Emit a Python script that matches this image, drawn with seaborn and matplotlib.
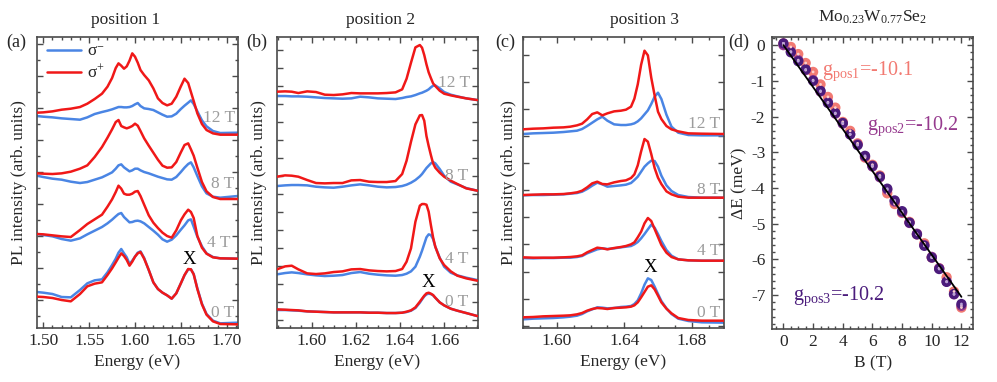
import numpy as np
import pandas as pd
import matplotlib
matplotlib.use("Agg")
import matplotlib.pyplot as plt
from matplotlib.ticker import MultipleLocator, FormatStrFormatter
from matplotlib.lines import Line2D
import seaborn as sns

# ---------------- data: panel (a) position 1 ----------------
E_a = [1.493, 1.500, 1.510, 1.520, 1.530, 1.540, 1.548, 1.556, 1.564, 1.570,
       1.575, 1.579, 1.582, 1.585, 1.588, 1.591, 1.594, 1.597, 1.600, 1.603,
       1.606, 1.610, 1.615, 1.620, 1.625, 1.630, 1.635, 1.640, 1.645, 1.650,
       1.654, 1.658, 1.661, 1.664, 1.668, 1.673, 1.678, 1.685, 1.693, 1.712]
a_red_0T = [9.0, 8.9, 8.6, 8.0, 7.6, 9.8, 12.1, 12.9, 13.3, 15.5,
            17.5, 19.3, 20.7, 22.0, 21.2, 20.0, 18.3, 19.5, 21.0, 22.0,
            22.4, 20.4, 17.0, 13.3, 11.3, 10.2, 9.4, 8.4, 10.0, 13.0,
            15.5, 17.3, 17.2, 15.7, 11.3, 6.7, 3.6, 1.6, 0.8, 0.7]
a_blue_0T = [10.4, 10.2, 9.8, 8.9, 8.8, 11.0, 13.0, 13.9, 14.2, 16.3,
             18.5, 20.4, 22.2, 23.3, 22.0, 20.8, 18.8, 19.8, 21.0, 22.2,
             22.6, 20.6, 17.0, 13.3, 11.3, 10.2, 9.4, 8.4, 10.0, 13.0,
             15.4, 17.2, 17.2, 15.8, 11.5, 6.9, 3.8, 1.8, 1.0, 1.2]
a_red_4T = [27.8, 27.7, 27.4, 27.1, 26.9, 29.0, 30.8, 32.2, 33.6, 36.0,
            38.2, 40.4, 42.3, 41.4, 39.9, 39.6, 39.6, 39.9, 40.5, 40.7,
            39.2, 36.6, 33.4, 31.2, 29.6, 28.2, 27.2, 26.7, 28.9, 31.9,
            33.7, 35.1, 34.4, 32.6, 27.2, 23.7, 21.9, 20.8, 20.5, 20.4]
a_blue_4T = [27.8, 27.5, 27.1, 26.3, 25.8, 26.5, 27.7, 28.8, 29.9, 31.0,
             32.1, 33.1, 33.8, 34.1, 32.9, 32.1, 31.3, 31.4, 31.7, 31.8,
             31.6, 31.0, 29.9, 28.8, 27.6, 26.2, 25.5, 26.1, 27.4, 29.1,
             30.4, 31.9, 32.2, 30.0, 27.0, 24.1, 22.0, 20.9, 20.5, 20.4]
a_red_8T = [46.0, 45.9, 45.8, 46.0, 46.5, 47.4, 48.4, 50.9, 53.9, 56.7,
            59.2, 61.4, 62.0, 60.2, 59.8, 59.5, 59.8, 60.2, 60.9, 60.3,
            58.7, 56.5, 54.3, 52.2, 50.1, 48.3, 47.7, 47.8, 49.4, 52.3,
            54.5, 55.0, 53.2, 51.3, 47.7, 43.4, 40.6, 38.9, 38.3, 38.3]
a_blue_8T = [45.3, 44.9, 44.4, 44.1, 43.5, 43.1, 43.4, 44.1, 44.8, 45.6,
             46.3, 47.4, 48.4, 48.7, 47.8, 47.2, 46.6, 46.9, 47.4, 47.4,
             46.9, 46.4, 46.0, 45.5, 45.0, 44.6, 44.2, 44.1, 44.9, 46.4,
             47.7, 48.8, 49.3, 47.8, 45.2, 42.1, 40.0, 39.0, 38.7, 39.2]
a_red_12T = [64.2, 64.3, 64.6, 65.1, 65.4, 65.9, 66.9, 68.3, 69.9, 72.0,
             74.6, 77.6, 79.0, 78.3, 77.4, 78.1, 79.8, 82.0, 81.0, 79.2,
             77.0, 75.5, 73.9, 71.5, 68.5, 67.1, 66.4, 66.9, 69.0, 72.1,
             74.4, 73.1, 70.4, 67.7, 64.0, 60.8, 59.0, 58.0, 57.6, 57.6]
a_blue_12T = [63.2, 63.0, 62.8, 62.5, 62.3, 62.1, 62.8, 63.8, 64.4, 64.8,
              65.2, 65.6, 65.9, 65.9, 65.8, 65.8, 65.9, 66.2, 66.7, 67.1,
              66.2, 65.5, 65.3, 65.0, 64.3, 63.6, 63.0, 63.1, 63.9, 65.3,
              66.3, 67.2, 67.9, 66.8, 64.6, 61.9, 60.1, 58.7, 58.1, 58.2]

# ---------------- data: panel (b) position 2 ----------------
E_b = [1.5843, 1.588, 1.591, 1.594, 1.598, 1.602, 1.606, 1.610, 1.614, 1.618,
       1.622, 1.626, 1.630, 1.634, 1.638, 1.641, 1.643, 1.645, 1.647, 1.649,
       1.650, 1.651, 1.652, 1.653, 1.654, 1.655, 1.656, 1.658, 1.660, 1.663,
       1.666, 1.670, 1.675]
b_red_0T = [3.2, 3.1, 3.0, 2.9, 2.6, 2.5, 2.4, 2.3, 2.3, 2.3,
            2.3, 2.2, 2.2, 2.1, 2.1, 2.2, 2.5, 2.9, 3.8, 5.5,
            6.4, 7.3, 8.0, 8.2, 7.9, 7.5, 6.7, 5.3, 4.4, 3.4,
            2.8, 2.1, 1.2]
b_blue_0T = [3.0, 3.0, 2.9, 2.8, 2.6, 2.5, 2.4, 2.3, 2.3, 2.3,
             2.3, 2.2, 2.2, 2.1, 2.1, 2.2, 2.4, 2.8, 3.6, 5.2,
             6.2, 7.1, 7.7, 7.9, 7.8, 7.4, 6.7, 5.3, 4.4, 3.4,
             2.8, 2.1, 1.2]
b_red_4T = [15.2, 16.1, 16.3, 15.2, 14.0, 13.8, 14.0, 14.4, 14.6, 15.2,
            15.3, 14.9, 14.7, 14.6, 14.7, 15.3, 17.5, 21.5, 29.5, 34.3,
            34.8, 34.8, 34.6, 32.5, 28.5, 24.8, 22.0, 18.5, 16.5, 14.6,
            13.3, 12.5, 11.8]
b_blue_4T = [13.7, 14.1, 14.3, 14.1, 13.7, 13.4, 13.2, 13.3, 13.5, 14.1,
             14.4, 13.9, 13.6, 13.4, 13.3, 13.5, 13.9, 14.6, 16.0, 19.0,
             20.8, 22.8, 24.8, 25.7, 25.5, 24.3, 22.0, 18.7, 16.0, 14.2,
             13.4, 12.7, 12.0]
b_red_8T = [43.0, 43.4, 43.3, 43.0, 42.0, 41.1, 41.0, 41.1, 41.1, 41.9,
            42.0, 41.5, 41.4, 41.4, 41.7, 43.8, 47.8, 53.5, 58.7, 61.4,
            61.5, 59.8, 55.2, 52.2, 49.5, 47.0, 45.7, 44.2, 43.0, 41.8,
            40.8, 39.5, 38.8]
b_blue_8T = [40.2, 40.4, 40.5, 40.5, 40.4, 40.0, 39.8, 39.7, 40.0, 40.4,
             40.7, 40.4, 40.0, 39.8, 39.9, 40.2, 40.6, 41.2, 42.0, 43.1,
             43.8, 44.7, 45.6, 46.3, 47.0, 47.4, 47.0, 45.3, 43.3, 41.5,
             40.7, 39.6, 38.8]
b_red_12T = [68.5, 68.6, 68.5, 68.1, 68.6, 68.4, 67.6, 67.5, 67.7, 68.1,
             68.0, 68.0, 68.0, 68.1, 68.3, 69.2, 72.4, 77.2, 81.8, 82.5,
             81.7, 79.5, 76.7, 74.3, 72.6, 71.0, 70.2, 68.8, 67.9, 67.4,
             67.0, 66.5, 66.0]
b_blue_12T = [67.2, 67.2, 67.1, 67.1, 67.0, 66.8, 66.6, 66.5, 66.4, 66.5,
              67.0, 66.8, 66.5, 66.4, 66.3, 66.6, 66.9, 67.1, 67.5, 68.0,
              68.2, 68.5, 68.8, 69.2, 69.8, 70.3, 70.4, 69.5, 68.4, 67.6,
              67.1, 66.5, 66.0]

# ---------------- data: panel (c) position 3 ----------------
E_c = [1.5798, 1.586, 1.592, 1.598, 1.604, 1.608, 1.612, 1.615, 1.618, 1.621,
       1.624, 1.627, 1.630, 1.634, 1.638, 1.641, 1.644, 1.646, 1.648, 1.650,
       1.652, 1.654, 1.656, 1.658, 1.660, 1.662, 1.665, 1.668, 1.672, 1.678,
       1.686, 1.6995]
c_red_0T = [2.5, 2.6, 2.8, 2.9, 3.0, 3.1, 3.4, 3.8, 4.5, 5.0,
            5.3, 5.2, 5.0, 5.3, 5.4, 5.5, 5.7, 6.1, 7.0, 8.5,
            10.1, 11.7, 12.1, 10.9, 9.0, 7.0, 5.1, 3.7, 2.3, 1.7,
            1.5, 1.5]
c_blue_0T = [1.9, 2.1, 2.2, 2.3, 2.5, 2.7, 3.0, 3.5, 4.3, 4.9,
             5.5, 5.4, 5.2, 5.3, 5.6, 5.7, 5.9, 6.5, 7.6, 9.7,
             12.3, 14.2, 13.7, 11.7, 9.5, 7.4, 5.2, 3.5, 2.1, 1.4,
             1.0, 0.9]
c_red_4T = [20.5, 20.4, 20.4, 20.4, 20.5, 20.6, 20.8, 21.1, 22.0, 22.7,
            23.4, 23.2, 22.9, 23.3, 23.6, 23.9, 24.4, 25.0, 26.5, 28.2,
            30.7, 32.3, 31.4, 29.0, 26.6, 24.2, 21.9, 20.6, 19.9, 19.6,
            19.5, 19.5]
c_blue_4T = [20.3, 20.2, 20.3, 20.3, 20.4, 20.4, 20.6, 20.9, 21.7, 22.3,
             22.9, 23.2, 23.0, 23.2, 23.5, 23.7, 23.9, 24.4, 25.1, 26.2,
             27.5, 28.9, 30.3, 29.4, 27.5, 25.4, 22.7, 21.0, 19.9, 19.6,
             19.5, 19.5]
c_red_8T = [39.2, 39.3, 39.4, 39.4, 39.5, 39.7, 40.0, 40.5, 41.5, 42.7,
            43.2, 42.5, 42.4, 43.0, 43.4, 43.6, 44.3, 45.4, 48.1, 52.3,
            56.0, 55.2, 51.5, 47.3, 44.4, 42.5, 40.3, 39.4, 38.7, 38.4,
            38.4, 38.4]
c_blue_8T = [39.1, 39.2, 39.2, 39.3, 39.4, 39.6, 39.8, 40.2, 41.0, 42.0,
             42.9, 42.4, 41.7, 41.9, 42.1, 42.3, 42.8, 43.7, 44.7, 46.2,
             47.7, 48.7, 49.5, 49.4, 47.7, 45.0, 42.1, 40.4, 39.2, 38.6,
             38.4, 38.4]
c_red_12T = [58.9, 59.1, 59.2, 59.4, 59.5, 59.7, 60.1, 60.6, 61.9, 63.5,
             64.0, 63.1, 63.7, 64.3, 64.5, 64.8, 65.7, 68.1, 72.4, 78.3,
             82.5, 81.1, 74.4, 69.1, 64.2, 62.0, 59.9, 58.9, 58.3, 57.7,
             57.6, 57.5]
c_blue_12T = [57.5, 57.7, 57.8, 57.9, 58.1, 58.3, 58.5, 59.0, 59.9, 60.9,
              61.9, 62.7, 61.5, 60.4, 60.2, 60.2, 60.4, 60.7, 61.3, 62.2,
              63.4, 64.6, 66.5, 68.7, 69.9, 68.0, 63.3, 59.7, 57.9, 57.2,
              57.1, 57.1]

field_labels = ["0 T", "4 T", "8 T", "12 T"]

# ---------------- data: panel (d) ----------------
B_field = [0.0, 0.5, 1.0, 1.5, 2.0, 2.5, 3.0, 3.5, 4.0, 4.5, 5.0, 5.5, 6.0,
           6.5, 7.0, 7.5, 8.0, 8.5, 9.0, 9.5, 10.0, 10.5, 11.0, 11.5, 12.0]
dE_pos1 = [0.05, -0.05, -0.25, -0.50, -0.75, -1.10, -1.45, -1.75, -2.15, -2.40,
           -2.75, -3.15, -3.35, -3.65, -4.15, -4.45, -4.70, -4.95, -5.30, -5.55,
           -5.95, -6.25, -6.50, -6.90, -7.35]
dE_pos2 = [0.00, -0.18, -0.42, -0.70, -0.98, -1.30, -1.60, -1.92, -2.20, -2.50,
           -2.78, -3.12, -3.40, -3.70, -4.05, -4.38, -4.68, -4.98, -5.28, -5.60,
           -5.93, -6.25, -6.62, -6.98, -7.30]
dE_pos3 = [0.05, -0.20, -0.45, -0.68, -1.00, -1.28, -1.62, -1.90, -2.18, -2.50,
           -2.80, -3.10, -3.38, -3.68, -4.02, -4.35, -4.65, -4.97, -5.30, -5.62,
           -5.95, -6.27, -6.63, -6.97, -7.25]
fit_B = [0.0, 12.0]
fit_dE = [0.0, -7.05]
g_labels = [r"g$_{\rm pos1}$=-10.1", r"g$_{\rm pos2}$=-10.2", r"g$_{\rm pos3}$=-10.2"]

# ---------------- style ----------------
sns.set_style("ticks")
plt.rcParams["font.family"] = ["Liberation Serif", "DejaVu Serif"]
plt.rcParams["mathtext.fontset"] = "custom"
plt.rcParams["mathtext.rm"] = "Liberation Serif"
plt.rcParams["mathtext.it"] = "Liberation Serif:italic"
plt.rcParams["mathtext.bf"] = "Liberation Serif:bold"
plt.rcParams["axes.unicode_minus"] = False

BLUE = "#4a85e4"
RED = "#f01818"
GRAY_TXT = "#9c9c9c"
SPINE = "#4a4a4a"
C_POS1 = "#f27a72"
C_POS2 = "#963a8e"
C_POS3 = "#4b1c7c"
HL_POS1 = "#fbd0cc"
HL_POS2 = "#d9b3d6"
HL_POS3 = "#b9a3d6"

FS = 12.5

fig = plt.figure(figsize=(9.97, 3.82), dpi=100)
W, H = 997.0, 382.0


def add_ax(left, top, right, bottom):
    return fig.add_axes([left / W, 1 - bottom / H, (right - left) / W, (bottom - top) / H])


ax_a = add_ax(36.7, 36.7, 237.7, 328.0)
ax_b = add_ax(276.7, 36.7, 477.7, 327.7)
ax_c = add_ax(522.7, 36.7, 724.3, 328.0)
ax_d = add_ax(772.3, 37.3, 973.3, 329.0)


def style_axes(ax):
    for s in ax.spines.values():
        s.set_color(SPINE)
        s.set_linewidth(1.2)
    ax.tick_params(which="both", direction="in", top=True, right=True,
                   color=SPINE, width=1.0, labelsize=FS, pad=3.5)
    ax.tick_params(which="major", length=4.0)
    ax.tick_params(which="minor", length=2.2)


def draw_spectra(ax, E, blues, reds):
    for yb, yr in zip(blues, reds):
        sns.lineplot(x=E, y=yb, ax=ax, color=BLUE, lw=1.8, zorder=2)
        sns.lineplot(x=E, y=yr, ax=ax, color=RED, lw=1.8, zorder=3)


# panel (a)
draw_spectra(ax_a, E_a, [a_blue_0T, a_blue_4T, a_blue_8T, a_blue_12T],
             [a_red_0T, a_red_4T, a_red_8T, a_red_12T])
ax_a.set_xlim(1.4928, 1.712)
ax_a.set_ylim(-0.4, 87.0)
ax_a.xaxis.set_major_locator(MultipleLocator(0.05))
ax_a.xaxis.set_minor_locator(MultipleLocator(0.01))
ax_a.yaxis.set_major_locator(MultipleLocator(9.6, offset=8.0))
ax_a.yaxis.set_minor_locator(MultipleLocator(4.8, offset=3.2))

# panel (b)
draw_spectra(ax_b, E_b, [b_blue_0T, b_blue_4T, b_blue_8T, b_blue_12T],
             [b_red_0T, b_red_4T, b_red_8T, b_red_12T])
ax_b.set_xlim(1.5842, 1.6752)
ax_b.set_ylim(-2.3, 85.0)
ax_b.xaxis.set_major_locator(MultipleLocator(0.02))
ax_b.xaxis.set_minor_locator(MultipleLocator(0.005))
ax_b.yaxis.set_major_locator(MultipleLocator(5.4))

# panel (c)
draw_spectra(ax_c, E_c, [c_blue_0T, c_blue_4T, c_blue_8T, c_blue_12T],
             [c_red_0T, c_red_4T, c_red_8T, c_red_12T])
ax_c.set_xlim(1.5798, 1.6993)
ax_c.set_ylim(-0.7, 86.7)
ax_c.xaxis.set_major_locator(MultipleLocator(0.04))
ax_c.xaxis.set_minor_locator(MultipleLocator(0.01))
ax_c.yaxis.set_major_locator(MultipleLocator(8.12))

for ax, title, tx in zip([ax_a, ax_b, ax_c], ["position 1", "position 2", "position 3"],
                         [0.444, 0.518, 0.602]):
    style_axes(ax)
    ax.xaxis.set_major_formatter(FormatStrFormatter("%.2f"))
    ax.tick_params(axis="y", which="both", labelleft=False)
    ax.set_xlabel("Energy (eV)", fontsize=FS)
    ax.xaxis.set_label_coords(0.5, -0.09)
    ax.set_ylabel("PL intensity (arb. units)", fontsize=FS)
    ax.set_title(title, fontsize=FS, pad=9.5, x=tx)

ax_a.yaxis.set_label_coords(-0.05, 0.5)
ax_b.yaxis.set_label_coords(-0.05, 0.5)
ax_c.yaxis.set_label_coords(-0.03, 0.5)

# field labels (axes fraction positions)
lab_pos = {
    ax_a: [(0.985, 0.050), (0.962, 0.291), (0.985, 0.493), (0.985, 0.722)],
    ax_b: [(0.953, 0.089), (0.953, 0.236), (0.953, 0.522), (0.962, 0.840)],
    ax_c: [(0.979, 0.050), (0.979, 0.265), (0.979, 0.474), (0.979, 0.699)],
}
for ax, plist in lab_pos.items():
    for (px, py), txt in zip(plist, field_labels):
        ax.text(px, py, txt, transform=ax.transAxes, ha="right", va="center",
                color=GRAY_TXT, fontsize=FS)

for ax, (px, py) in zip([ax_a, ax_b, ax_c], [(0.758, 0.236), (0.754, 0.156), (0.631, 0.207)]):
    ax.text(px, py, "X", transform=ax.transAxes, ha="center", va="center",
            color="black", fontsize=FS + 1)

# legend in (a)
handles = [Line2D([], [], color=BLUE, lw=1.8), Line2D([], [], color=RED, lw=1.8)]
ax_a.legend(handles, [r"σ$^{-}$", r"σ$^{+}$"], loc="upper left",
            bbox_to_anchor=(0.05, 0.975), frameon=False, fontsize=FS,
            handlelength=2.0, handletextpad=0.3, labelspacing=0.2,
            borderpad=0.0, borderaxespad=0.0)

# panel (d)
style_axes(ax_d)
for y, col, hl in zip([dE_pos1, dE_pos2, dE_pos3], [C_POS1, C_POS2, C_POS3],
                      [HL_POS1, HL_POS2, HL_POS3]):
    sns.scatterplot(x=B_field, y=y, ax=ax_d, color=col, s=55, edgecolor="none",
                    linewidth=0, zorder=3)
    sns.scatterplot(x=B_field, y=y, ax=ax_d, color=hl, s=4, edgecolor="none",
                    linewidth=0, zorder=4)
sns.lineplot(x=fit_B, y=fit_dE, ax=ax_d, color="black", lw=1.3, zorder=5)
ax_d.set_xlim(-0.75, 12.8)
ax_d.set_ylim(-7.95, 0.22)
ax_d.xaxis.set_major_locator(MultipleLocator(2))
ax_d.xaxis.set_minor_locator(MultipleLocator(0.5))
ax_d.yaxis.set_major_locator(MultipleLocator(1))
ax_d.yaxis.set_minor_locator(MultipleLocator(0.2))
ax_d.tick_params(axis="y", pad=5)
ax_d.set_xlabel("B (T)", fontsize=FS)
ax_d.xaxis.set_label_coords(0.5, -0.09)
ax_d.set_ylabel("ΔE (meV)", fontsize=FS)
ax_d.yaxis.set_label_coords(-0.125, 0.5)
ax_d.set_title(r"Mo$_{0.23}$W$_{0.77}$Se$_2$", fontsize=FS, pad=11)

for (px, py), txt, col in zip([(0.246, 0.871), (0.470, 0.682), (0.104, 0.099)],
                              g_labels, [C_POS1, C_POS2, C_POS3]):
    ax_d.text(px, py, txt, transform=ax_d.transAxes, ha="left", va="baseline",
              color=col, fontsize=14.5)

# panel letters
for x, lab in zip([16.7, 256.7, 505.0, 738.3], ["(a)", "(b)", "(c)", "(d)"]):
    fig.text(x / W, 1 - 42.7 / H, lab, ha="center", va="center", fontsize=FS + 0.5)

fig.savefig("out.png", dpi=100)
